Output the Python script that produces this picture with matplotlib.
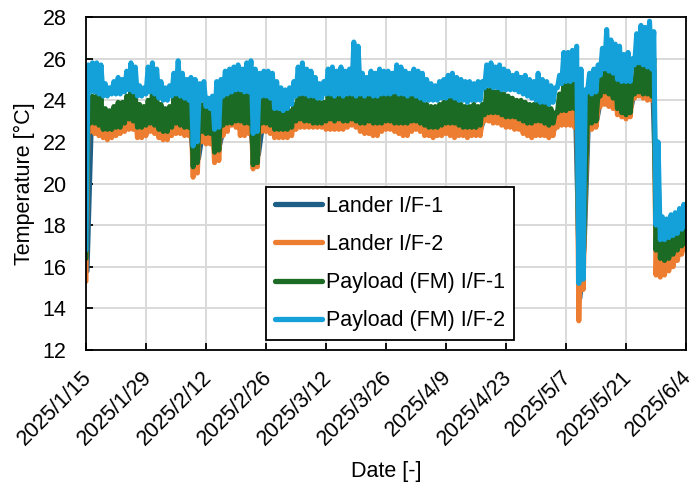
import datetime
import numpy as np
import matplotlib
matplotlib.use("Agg")
import matplotlib.pyplot as plt
import matplotlib.dates as mdates
from matplotlib.transforms import ScaledTranslation

plt.rcParams['font.family'] = ['Liberation Sans', 'DejaVu Sans']

START = datetime.date(2025, 1, 15)
END = datetime.date(2025, 6, 4)
TICK_STEP_DAYS = 14

series_names = ["Lander I/F-1", "Lander I/F-2", "Payload (FM) I/F-1", "Payload (FM) I/F-2"]
series_colors = ["#1d5f86", "#ed7d31", "#1b6b24", "#14a0d8"]

# Lander I/F-1 : daily mean (mostly hidden under Lander I/F-2)
lander1_mean = [
    15.8, 22.9, 22.9, 22.8, 22.6, 22.5, 22.6, 22.7, 22.8, 22.9, 23.1, 23.0, 22.7, 22.6,
    22.8, 23.0, 22.9, 22.6, 22.5, 22.5, 22.8, 22.9, 22.9, 22.7, 22.8, 21.0, 21.2, 22.5,
    22.4, 22.4, 21.8, 21.9, 22.8, 23.0, 23.2, 23.1, 22.8, 22.8, 22.9, 21.2, 21.4, 22.9,
    22.9, 22.8, 22.5, 22.5, 22.5, 22.5, 22.7, 23.0, 23.1, 23.1, 23.0, 23.0, 23.0, 23.0,
    23.0, 23.0, 23.0, 23.0, 23.0, 23.1, 23.2, 23.1, 22.9, 22.8, 22.9, 22.8, 22.8, 22.9,
    23.0, 23.0, 23.0, 22.9, 22.8, 22.8, 22.9, 23.0, 22.9, 22.7, 22.6, 22.6, 22.7, 22.7,
    22.8, 22.8, 22.7, 22.7, 22.6, 22.6, 22.7, 22.6, 22.7, 23.4, 23.4, 23.3, 23.3, 23.2,
    23.1, 23.1, 23.0, 23.0, 22.8, 22.7, 22.6, 22.7, 22.7, 22.7, 22.6, 22.6, 23.1, 23.3,
    23.4, 23.4, 23.4, 14.5, 17.0, 23.1, 23.0, 23.1, 24.2, 24.5, 24.3, 24.2, 23.9, 23.7,
    23.6, 23.7, 24.7, 24.9, 24.8, 24.8, 24.7, 17.5, 16.0, 16.0, 16.2, 16.4, 16.6, 16.9, 17.1,
]

# Lander I/F-2 : daily low / high
lander2_low = [
    15.3, 22.5, 22.4, 22.3, 22.2, 22.1, 22.2, 22.3, 22.4, 22.5, 22.6, 22.6, 22.2, 22.2,
    22.3, 22.5, 22.4, 22.2, 22.1, 22.1, 22.3, 22.4, 22.4, 22.3, 22.3, 20.3, 20.5, 22.0,
    21.9, 21.9, 21.0, 21.1, 22.3, 22.5, 22.8, 22.7, 22.3, 22.3, 22.4, 20.7, 20.8, 22.5,
    22.5, 22.4, 22.2, 22.2, 22.2, 22.2, 22.3, 22.6, 22.7, 22.7, 22.7, 22.7, 22.7, 22.7,
    22.6, 22.6, 22.6, 22.6, 22.6, 22.7, 22.8, 22.7, 22.5, 22.4, 22.4, 22.3, 22.3, 22.5,
    22.6, 22.6, 22.5, 22.4, 22.3, 22.3, 22.5, 22.6, 22.5, 22.3, 22.3, 22.2, 22.3, 22.3,
    22.4, 22.3, 22.2, 22.3, 22.3, 22.2, 22.3, 22.3, 22.3, 23.0, 23.0, 22.9, 22.9, 22.8,
    22.7, 22.7, 22.6, 22.6, 22.4, 22.3, 22.2, 22.3, 22.3, 22.3, 22.2, 22.3, 22.7, 22.8,
    22.8, 22.8, 22.7, 13.4, 14.9, 22.6, 22.6, 22.7, 23.7, 23.8, 23.7, 23.6, 23.3, 23.2,
    23.1, 23.2, 24.1, 24.2, 24.1, 24.0, 24.0, 15.6, 15.5, 15.6, 15.8, 16.0, 16.3, 16.6, 16.8,
]
lander2_high = [
    23.3, 23.4, 23.4, 23.3, 23.1, 23.0, 23.1, 23.2, 23.2, 23.4, 23.6, 23.5, 23.2, 23.1,
    23.3, 23.5, 23.4, 23.1, 23.0, 23.0, 23.3, 23.5, 23.4, 23.2, 23.3, 23.2, 23.1, 23.0,
    22.9, 22.9, 23.1, 23.2, 23.4, 23.5, 23.6, 23.5, 23.4, 23.4, 23.5, 23.4, 23.3, 23.3,
    23.3, 23.2, 22.9, 22.9, 22.9, 22.9, 23.1, 23.5, 23.6, 23.5, 23.4, 23.4, 23.3, 23.3,
    23.4, 23.5, 23.4, 23.5, 23.4, 23.5, 23.6, 23.5, 23.4, 23.3, 23.4, 23.3, 23.3, 23.4,
    23.4, 23.4, 23.5, 23.4, 23.3, 23.3, 23.4, 23.4, 23.3, 23.1, 23.0, 23.0, 23.1, 23.1,
    23.2, 23.3, 23.2, 23.1, 23.0, 23.0, 23.1, 23.0, 23.1, 23.8, 23.9, 23.8, 23.8, 23.7,
    23.6, 23.5, 23.4, 23.4, 23.3, 23.2, 23.1, 23.2, 23.2, 23.1, 23.0, 23.0, 23.6, 23.9,
    24.0, 24.0, 24.1, 18.0, 19.5, 23.6, 23.5, 23.6, 24.8, 25.2, 25.0, 24.8, 24.5, 24.3,
    24.2, 24.3, 25.4, 25.7, 25.6, 25.7, 25.5, 19.5, 16.4, 16.4, 16.6, 16.8, 17.0, 17.3, 17.5,
]

# Payload (FM) I/F-1 : daily low / high
payload1_low = [
    16.4, 22.9, 22.9, 22.8, 22.6, 22.6, 22.6, 22.7, 22.7, 22.9, 23.1, 23.0, 22.7, 22.7,
    22.8, 22.9, 22.8, 22.6, 22.5, 22.5, 22.7, 22.9, 22.8, 22.7, 22.7, 20.8, 21.0, 22.5,
    22.4, 22.4, 21.5, 21.6, 22.8, 22.9, 22.9, 23.0, 23.0, 22.9, 22.9, 20.9, 21.0, 22.9,
    22.9, 22.8, 22.6, 22.6, 22.6, 22.6, 22.7, 23.0, 23.1, 23.0, 23.0, 22.9, 22.9, 22.9,
    23.0, 23.1, 23.0, 23.1, 23.0, 23.0, 23.1, 23.0, 22.9, 22.9, 23.0, 22.9, 22.9, 22.9,
    23.0, 23.0, 22.9, 22.9, 22.9, 22.9, 23.0, 23.0, 22.9, 22.8, 22.7, 22.7, 22.7, 22.8,
    22.9, 22.9, 22.9, 22.8, 22.7, 22.7, 22.7, 22.7, 22.8, 23.3, 23.4, 23.4, 23.4, 23.3,
    23.2, 23.2, 23.2, 23.1, 23.0, 22.9, 22.9, 23.0, 23.0, 22.9, 22.8, 22.9, 23.4, 23.5,
    23.5, 23.6, 23.6, 15.9, 15.9, 23.0, 22.9, 23.0, 24.2, 24.4, 24.3, 24.1, 23.6, 23.4,
    23.3, 23.4, 24.3, 24.4, 24.3, 24.3, 24.2, 16.8, 16.4, 16.3, 16.4, 16.6, 16.8, 17.0, 17.1,
]
payload1_high = [
    24.0, 24.2, 24.2, 24.1, 23.6, 23.5, 23.7, 23.9, 23.9, 24.2, 24.4, 24.3, 23.8, 23.7,
    24.0, 24.4, 24.2, 23.8, 23.6, 23.7, 24.1, 24.3, 24.2, 23.9, 24.0, 23.9, 23.8, 23.8,
    23.6, 23.6, 23.8, 24.0, 24.2, 24.3, 24.3, 24.4, 24.3, 24.3, 24.4, 24.3, 24.2, 24.1,
    24.1, 24.0, 23.6, 23.4, 23.5, 23.5, 23.8, 24.3, 24.3, 24.2, 24.1, 24.0, 23.9, 23.9,
    24.2, 24.3, 24.2, 24.3, 24.2, 24.2, 24.9, 24.3, 24.2, 24.1, 24.2, 24.1, 24.2, 24.2,
    24.2, 24.2, 24.3, 24.2, 24.1, 24.1, 24.2, 24.2, 24.0, 23.8, 23.7, 23.7, 23.8, 23.9,
    24.0, 24.1, 24.0, 23.8, 23.7, 23.7, 23.8, 23.7, 23.8, 24.5, 24.5, 24.4, 24.5, 24.3,
    24.2, 24.1, 24.0, 24.0, 23.9, 23.8, 23.8, 23.9, 23.9, 23.8, 23.6, 23.4, 24.3, 24.8,
    24.8, 24.8, 24.9, 19.0, 20.0, 24.3, 24.2, 24.3, 25.6, 26.0, 25.8, 25.4, 25.0, 24.9,
    24.8, 24.9, 26.0, 26.3, 26.2, 26.4, 26.0, 20.5, 17.3, 17.3, 17.4, 17.5, 17.7, 17.9, 18.0,
]

# Payload (FM) I/F-2 : daily low / high
payload2_low = [
    16.8, 24.4, 24.4, 24.3, 24.2, 24.2, 24.3, 24.3, 24.3, 24.4, 24.5, 24.4, 24.2, 24.2,
    24.3, 24.4, 24.3, 24.1, 24.0, 24.0, 24.2, 24.3, 24.2, 24.1, 24.0, 21.8, 22.0, 24.0,
    23.7, 23.6, 22.6, 22.7, 24.2, 24.3, 24.4, 24.5, 24.5, 24.4, 24.4, 22.4, 22.5, 24.2,
    24.2, 24.1, 23.6, 23.6, 23.5, 23.6, 23.8, 24.2, 24.3, 24.3, 24.2, 24.2, 24.1, 24.1,
    24.3, 24.3, 24.2, 24.3, 24.2, 24.3, 24.3, 24.2, 24.3, 24.2, 24.3, 24.2, 24.2, 24.3,
    24.3, 24.3, 24.4, 24.3, 24.3, 24.2, 24.3, 24.2, 24.1, 24.0, 24.0, 24.0, 24.0, 24.1,
    24.1, 24.2, 24.1, 24.0, 24.0, 23.9, 24.0, 24.0, 24.0, 24.6, 24.7, 24.6, 24.6, 24.5,
    24.5, 24.5, 24.5, 24.4, 24.3, 24.2, 24.1, 24.0, 23.9, 23.9, 23.8, 23.9, 24.6, 24.8,
    24.9, 24.9, 25.0, 15.2, 15.4, 24.4, 24.3, 24.4, 25.2, 25.5, 25.4, 25.3, 25.0, 24.9,
    24.9, 24.9, 25.7, 25.8, 25.7, 25.6, 25.5, 18.0, 17.3, 17.3, 17.4, 17.5, 17.6, 17.8, 17.9,
]
payload2_high = [
    25.7, 25.8, 25.8, 25.7, 24.8, 24.6, 24.9, 25.1, 25.0, 25.4, 25.8, 25.6, 24.7, 24.6,
    25.6, 25.8, 25.5, 24.9, 24.6, 24.7, 25.3, 25.9, 25.3, 25.0, 25.1, 25.0, 24.8, 24.9,
    24.1, 24.2, 24.9, 25.0, 25.4, 25.5, 25.6, 25.7, 25.5, 25.8, 25.9, 25.5, 25.3, 25.4,
    25.4, 25.3, 24.9, 24.6, 24.5, 24.6, 24.9, 25.6, 25.8, 25.5, 25.4, 25.1, 24.8, 24.9,
    25.5, 25.6, 25.4, 25.6, 25.4, 25.5, 26.8, 26.6, 25.3, 25.1, 25.4, 25.3, 25.5, 25.4,
    25.4, 25.3, 25.7, 25.6, 25.4, 25.3, 25.5, 25.4, 25.3, 25.0, 24.8, 24.7, 24.9, 25.0,
    25.2, 25.3, 25.1, 25.0, 24.9, 24.9, 24.8, 24.9, 24.9, 25.7, 25.8, 25.6, 25.7, 25.5,
    25.4, 25.2, 25.3, 25.1, 25.2, 25.0, 24.9, 25.3, 25.0, 24.9, 24.7, 24.6, 25.2, 26.3,
    26.3, 26.4, 26.6, 25.5, 24.5, 25.3, 25.5, 25.7, 26.5, 27.4, 26.9, 26.7, 26.6, 26.2,
    26.3, 26.0, 27.2, 27.6, 27.5, 27.8, 27.3, 22.0, 18.4, 18.3, 18.5, 18.6, 18.8, 19.0, 19.2,
]

y_min, y_max, y_step = 12, 28, 2

base = mdates.date2num(datetime.datetime(START.year, START.month, START.day))


def daily_band(low, high):
    n = len(low)
    days = np.arange(n, dtype=float)
    t = np.empty(2 * n)
    v = np.empty(2 * n)
    t[0::2] = base + days
    t[1::2] = base + days + 0.5
    v[0::2] = low
    v[1::2] = high
    return t, v


FS = 15.5
fig = plt.figure(figsize=(6.89, 4.86), dpi=100)
ax = fig.add_axes([0.1248, 0.2798, 0.8708, 0.6852])

lw = 3.6
t1 = base + np.arange(len(lander1_mean)) + 0.25
ax.plot(t1, lander1_mean, color=series_colors[0], lw=lw, label=series_names[0],
        solid_capstyle='round', solid_joinstyle='round')
for (lo, hi), name, col in zip([(lander2_low, lander2_high),
                                 (payload1_low, payload1_high),
                                 (payload2_low, payload2_high)],
                                series_names[1:], series_colors[1:]):
    t, v = daily_band(lo, hi)
    ax.plot(t, v, color=col, lw=lw, label=name,
            solid_capstyle='round', solid_joinstyle='round')

x0 = base
x1 = mdates.date2num(datetime.datetime(END.year, END.month, END.day))
ax.set_xlim(x0, x1)
ax.set_ylim(y_min, y_max)
ticks = np.arange(x0, x1 + 0.1, TICK_STEP_DAYS)
ax.set_xticks(ticks)
labels = []
for tk in ticks:
    d = mdates.num2date(tk)
    labels.append(f"{d.year}/{d.month}/{d.day}")
ax.set_xticklabels(labels, rotation=45, ha='right', rotation_mode='anchor')
ax.set_yticks(np.arange(y_min, y_max + 0.1, y_step))

ax.grid(True, color='#d9d9d9', lw=1.4)
ax.set_axisbelow(True)
ax.tick_params(direction='in', length=5, width=1.3, labelsize=FS, color='black')
ax.tick_params(axis='x', pad=12)
ax.tick_params(axis='y', pad=14)
for s in ax.spines.values():
    s.set_linewidth(1.3)
    s.set_color('black')

shift = ScaledTranslation(-3.5 / 72, 0, fig.dpi_scale_trans)
for lab in ax.get_xticklabels():
    lab.set_transform(lab.get_transform() + shift)

ax.set_xlabel("Date [-]", fontsize=FS, labelpad=8)
ax.set_ylabel("Temperature [\u00b0C]", fontsize=FS, labelpad=5)

leg = ax.legend(loc='lower left', bbox_to_anchor=(0.30, 0.03), fontsize=FS,
                frameon=True, fancybox=False, edgecolor='black', framealpha=1,
                handlelength=2.2, handletextpad=0.2, labelspacing=0.8,
                borderpad=0.4, borderaxespad=0)
leg.get_frame().set_linewidth(1.3)
for line in leg.get_lines():
    line.set_linewidth(3.8)

fig.savefig("out.png", dpi=100)
